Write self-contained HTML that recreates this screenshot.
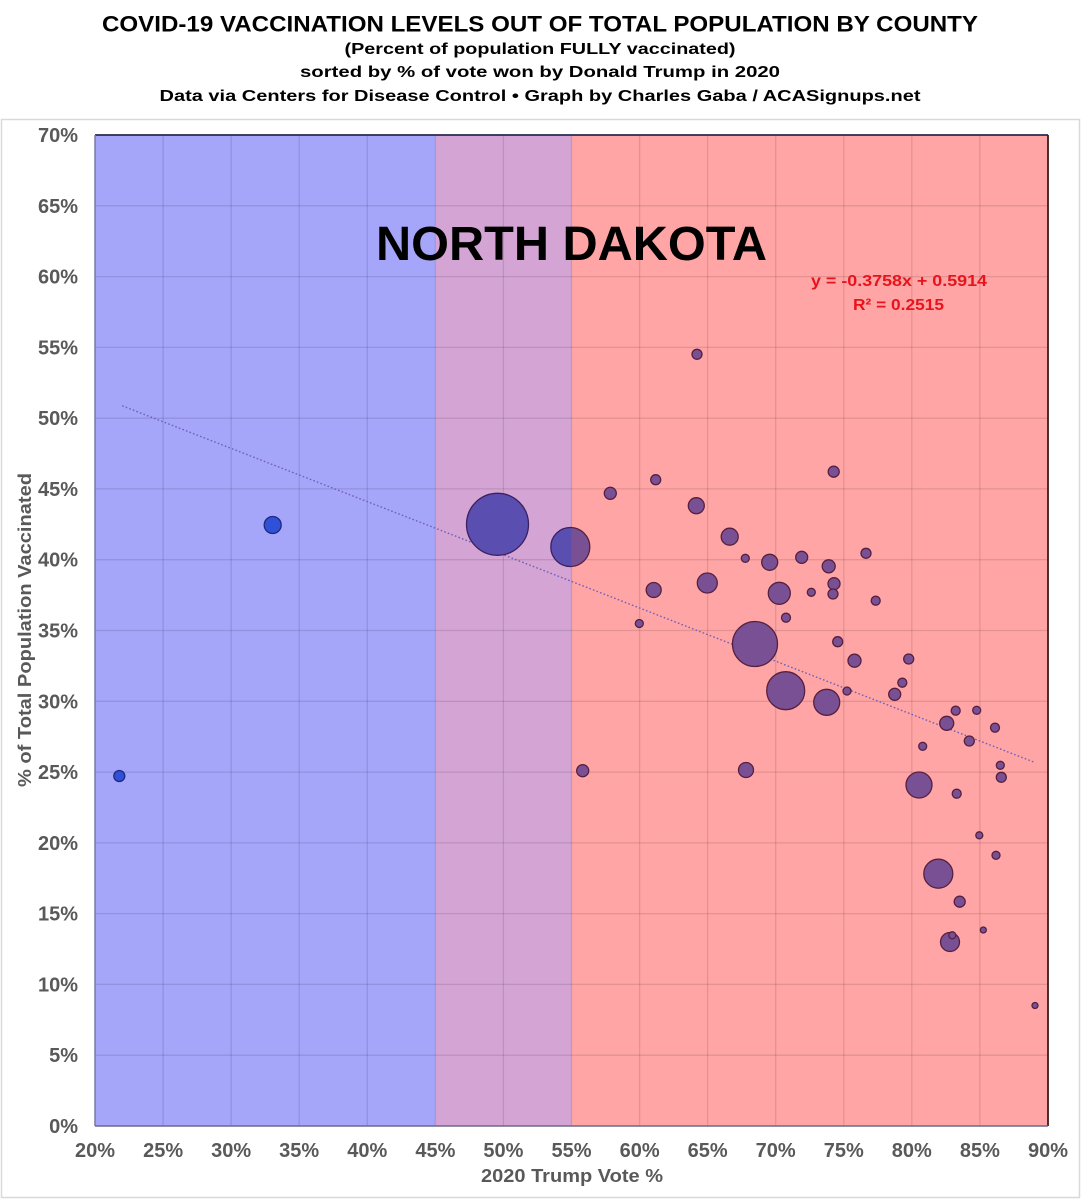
<!DOCTYPE html>
<html>
<head>
<meta charset="utf-8">
<style>
html,body{margin:0;padding:0;background:#fff;}
svg{display:block;}
text{font-family:"Liberation Sans",Arial,sans-serif;font-weight:bold;}
</style>
</head>
<body>
<svg width="1081" height="1200" viewBox="0 0 1081 1200" xmlns="http://www.w3.org/2000/svg">
<defs>
  <clipPath id="cb"><rect x="95" y="135" width="340.4" height="991"/></clipPath>
  <clipPath id="cp"><rect x="435.4" y="135" width="136.1" height="991"/></clipPath>
  <clipPath id="cr"><rect x="571.5" y="135" width="476.5" height="991"/></clipPath>
  <g id="pts">
    <circle cx="497.5" cy="524.3" r="31"/>
    <circle cx="755" cy="644" r="22.5"/>
    <circle cx="570.3" cy="547" r="19.5"/>
    <circle cx="785.7" cy="690.7" r="19"/>
    <circle cx="938.3" cy="873.7" r="14.5"/>
    <circle cx="826.7" cy="702.3" r="13"/>
    <circle cx="919" cy="785" r="13"/>
    <circle cx="779.3" cy="593.3" r="11"/>
    <circle cx="707.3" cy="583" r="10"/>
    <circle cx="950" cy="942" r="9.5"/>
    <circle cx="272.7" cy="525" r="8.5"/>
    <circle cx="729.7" cy="536.7" r="8.5"/>
    <circle cx="696.3" cy="505.7" r="8"/>
    <circle cx="769.7" cy="562.3" r="8"/>
    <circle cx="653.7" cy="590" r="7.5"/>
    <circle cx="746" cy="770" r="7.5"/>
    <circle cx="946.7" cy="723.3" r="7"/>
    <circle cx="828.7" cy="566.3" r="6.5"/>
    <circle cx="854.5" cy="660.7" r="6.5"/>
    <circle cx="610.3" cy="493.3" r="6"/>
    <circle cx="801.7" cy="557.3" r="6"/>
    <circle cx="834" cy="583.7" r="6"/>
    <circle cx="894.7" cy="694.3" r="6"/>
    <circle cx="582.7" cy="770.7" r="6"/>
    <circle cx="119.3" cy="776" r="5.5"/>
    <circle cx="833.7" cy="471.7" r="5.5"/>
    <circle cx="959.7" cy="901.7" r="5.5"/>
    <circle cx="655.7" cy="479.7" r="5"/>
    <circle cx="697" cy="354.3" r="5"/>
    <circle cx="866" cy="553.3" r="5"/>
    <circle cx="833" cy="594" r="5"/>
    <circle cx="837.7" cy="641.7" r="5"/>
    <circle cx="908.7" cy="659" r="5"/>
    <circle cx="969.3" cy="741" r="5"/>
    <circle cx="1001.3" cy="777.3" r="5"/>
    <circle cx="875.7" cy="600.7" r="4.5"/>
    <circle cx="786" cy="617.7" r="4.5"/>
    <circle cx="902.3" cy="682.7" r="4.5"/>
    <circle cx="955.7" cy="710.7" r="4.5"/>
    <circle cx="995" cy="727.7" r="4.5"/>
    <circle cx="956.7" cy="793.7" r="4.5"/>
    <circle cx="745.3" cy="558.3" r="4"/>
    <circle cx="811.3" cy="592.3" r="4"/>
    <circle cx="639.3" cy="623.5" r="4"/>
    <circle cx="847" cy="691" r="4"/>
    <circle cx="976.7" cy="710.3" r="4"/>
    <circle cx="922.7" cy="746.3" r="4"/>
    <circle cx="1000.3" cy="765.3" r="4"/>
    <circle cx="996" cy="855.3" r="4"/>
    <circle cx="979.3" cy="835.3" r="3.5"/>
    <circle cx="952.3" cy="935.3" r="3.5"/>
    <circle cx="983.3" cy="930" r="3"/>
    <circle cx="1035" cy="1005.5" r="3"/>
  </g>
</defs>

<!-- chart box -->
<rect x="1.5" y="119.5" width="1078" height="1078" fill="#fff" stroke="#d9d9d9" stroke-width="1.5"/>

<!-- titles -->
<text x="540" y="31.5" font-size="22" text-anchor="middle" textLength="876" lengthAdjust="spacingAndGlyphs" fill="#000">COVID-19 VACCINATION LEVELS OUT OF TOTAL POPULATION BY COUNTY</text>
<text x="540" y="54" font-size="16" text-anchor="middle" textLength="391" lengthAdjust="spacingAndGlyphs" fill="#000">(Percent of population FULLY vaccinated)</text>
<text x="540" y="77" font-size="16" text-anchor="middle" textLength="480" lengthAdjust="spacingAndGlyphs" fill="#000">sorted by % of vote won by Donald Trump in 2020</text>
<text x="540" y="101" font-size="16" text-anchor="middle" textLength="761" lengthAdjust="spacingAndGlyphs" fill="#000">Data via Centers for Disease Control • Graph by Charles Gaba / ACASignups.net</text>

<!-- bands -->
<rect x="95" y="135" width="340.4" height="991" fill="#a5a5fa"/>
<rect x="435.4" y="135" width="136.1" height="991" fill="#d4a4d4"/>
<rect x="571.5" y="135" width="476.5" height="991" fill="#ffa5a5"/>

<!-- gridlines -->
<g stroke="rgba(0,0,0,0.11)" stroke-width="1.3">
  <line x1="163.1" y1="135" x2="163.1" y2="1126"/>
  <line x1="231.1" y1="135" x2="231.1" y2="1126"/>
  <line x1="299.2" y1="135" x2="299.2" y2="1126"/>
  <line x1="367.3" y1="135" x2="367.3" y2="1126"/>
  <line x1="435.4" y1="135" x2="435.4" y2="1126"/>
  <line x1="503.4" y1="135" x2="503.4" y2="1126"/>
  <line x1="571.5" y1="135" x2="571.5" y2="1126"/>
  <line x1="639.6" y1="135" x2="639.6" y2="1126"/>
  <line x1="707.6" y1="135" x2="707.6" y2="1126"/>
  <line x1="775.7" y1="135" x2="775.7" y2="1126"/>
  <line x1="843.8" y1="135" x2="843.8" y2="1126"/>
  <line x1="911.8" y1="135" x2="911.8" y2="1126"/>
  <line x1="979.9" y1="135" x2="979.9" y2="1126"/>
  <line x1="95" y1="205.8" x2="1048" y2="205.8"/>
  <line x1="95" y1="276.6" x2="1048" y2="276.6"/>
  <line x1="95" y1="347.4" x2="1048" y2="347.4"/>
  <line x1="95" y1="418.2" x2="1048" y2="418.2"/>
  <line x1="95" y1="488.9" x2="1048" y2="488.9"/>
  <line x1="95" y1="559.7" x2="1048" y2="559.7"/>
  <line x1="95" y1="630.5" x2="1048" y2="630.5"/>
  <line x1="95" y1="701.3" x2="1048" y2="701.3"/>
  <line x1="95" y1="772.1" x2="1048" y2="772.1"/>
  <line x1="95" y1="842.9" x2="1048" y2="842.9"/>
  <line x1="95" y1="913.6" x2="1048" y2="913.6"/>
  <line x1="95" y1="984.4" x2="1048" y2="984.4"/>
  <line x1="95" y1="1055.2" x2="1048" y2="1055.2"/>
</g>

<!-- plot border -->
<line x1="95" y1="135" x2="1048" y2="135" stroke="#2a2a50" stroke-width="1.8"/>
<line x1="1048" y1="135" x2="1048" y2="1126" stroke="#3a1a1a" stroke-width="1.8"/>
<line x1="95" y1="135" x2="95" y2="1126" stroke="#7a7aa8" stroke-width="1.5"/>
<line x1="95" y1="1126" x2="1048" y2="1126" stroke="#6a6a90" stroke-width="1.5"/>

<!-- trendline -->
<line x1="122.2" y1="405.8" x2="1034.4" y2="762.3" stroke="#7060b8" stroke-width="1.4" stroke-dasharray="1.6,2.2"/>

<!-- points -->
<use href="#pts" clip-path="url(#cb)" fill="#3050d8" stroke="#1c2a80" stroke-width="1.3"/>
<use href="#pts" clip-path="url(#cp)" fill="#5a4fb0" stroke="#3a2060" stroke-width="1.3"/>
<use href="#pts" clip-path="url(#cr)" fill="#7a5094" stroke="#552040" stroke-width="1.3"/>

<!-- state label -->
<text x="571.5" y="260" font-size="48" text-anchor="middle" textLength="391" lengthAdjust="spacingAndGlyphs" fill="#000">NORTH DAKOTA</text>

<!-- equation -->
<text x="899" y="286" font-size="16" text-anchor="middle" textLength="176" lengthAdjust="spacingAndGlyphs" fill="#e8141c">y = -0.3758x + 0.5914</text>
<text x="898.5" y="310" font-size="16" text-anchor="middle" textLength="91" lengthAdjust="spacingAndGlyphs" fill="#e8141c">R² = 0.2515</text>

<!-- y tick labels -->
<g font-size="20" fill="#595959" text-anchor="end">
  <text x="78" y="142">70%</text>
  <text x="78" y="212.8">65%</text>
  <text x="78" y="283.6">60%</text>
  <text x="78" y="354.4">55%</text>
  <text x="78" y="425.2">50%</text>
  <text x="78" y="495.9">45%</text>
  <text x="78" y="566.7">40%</text>
  <text x="78" y="637.5">35%</text>
  <text x="78" y="708.3">30%</text>
  <text x="78" y="779.1">25%</text>
  <text x="78" y="849.9">20%</text>
  <text x="78" y="920.6">15%</text>
  <text x="78" y="991.4">10%</text>
  <text x="78" y="1062.2">5%</text>
  <text x="78" y="1133">0%</text>
</g>

<!-- x tick labels -->
<g font-size="20" fill="#595959" text-anchor="middle">
  <text x="95" y="1157">20%</text>
  <text x="163.1" y="1157">25%</text>
  <text x="231.1" y="1157">30%</text>
  <text x="299.2" y="1157">35%</text>
  <text x="367.3" y="1157">40%</text>
  <text x="435.4" y="1157">45%</text>
  <text x="503.4" y="1157">50%</text>
  <text x="571.5" y="1157">55%</text>
  <text x="639.6" y="1157">60%</text>
  <text x="707.6" y="1157">65%</text>
  <text x="775.7" y="1157">70%</text>
  <text x="843.8" y="1157">75%</text>
  <text x="911.8" y="1157">80%</text>
  <text x="979.9" y="1157">85%</text>
  <text x="1048" y="1157">90%</text>
</g>

<!-- axis titles -->
<text x="572" y="1182" font-size="18" text-anchor="middle" textLength="182" lengthAdjust="spacingAndGlyphs" fill="#595959">2020 Trump Vote %</text>
<text transform="translate(31,630) rotate(-90)" x="0" y="0" font-size="18" text-anchor="middle" textLength="314" lengthAdjust="spacingAndGlyphs" fill="#595959">% of Total Population Vaccinated</text>
</svg>
</body>
</html>
